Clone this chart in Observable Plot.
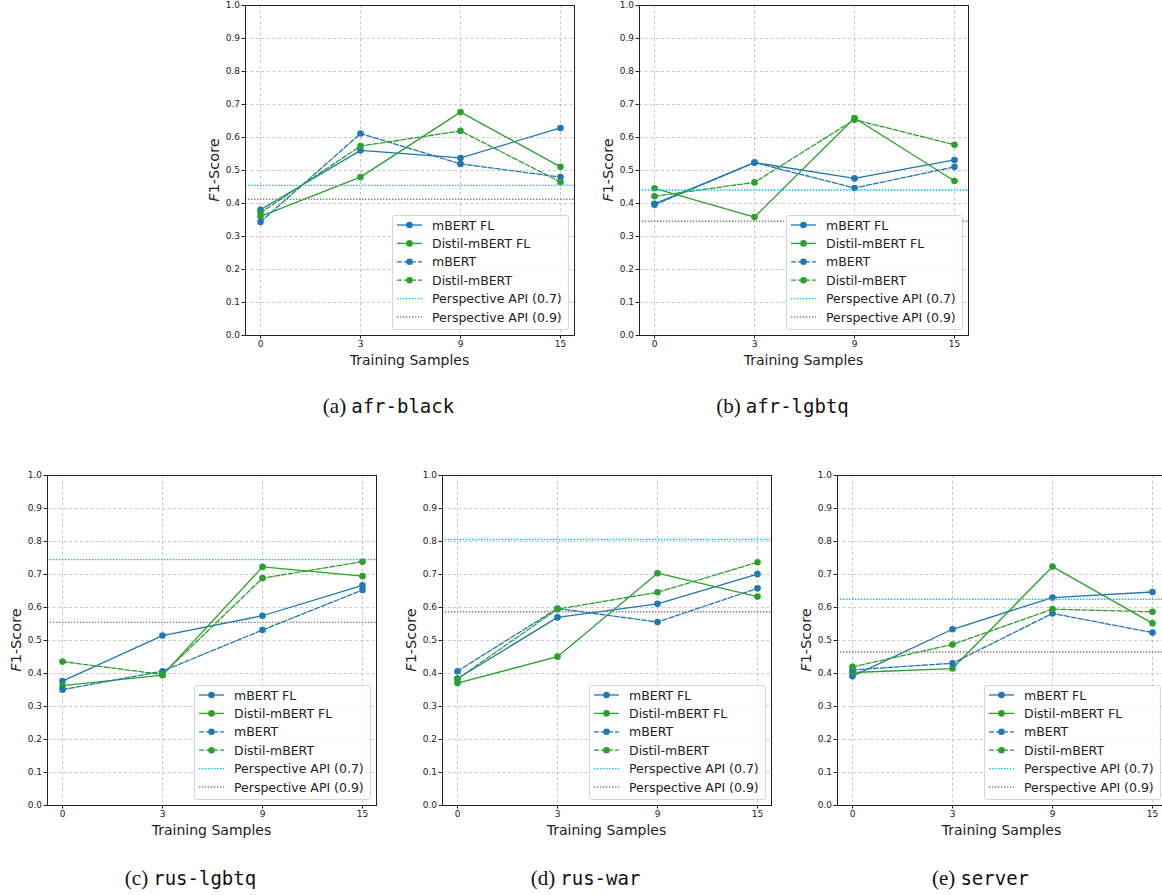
<!DOCTYPE html>
<html>
<head>
<meta charset="utf-8">
<script src="https://cdn.jsdelivr.net/npm/d3@7"></script>
<script src="https://cdn.jsdelivr.net/npm/@observablehq/plot@0.6"></script>
<style>
  body { margin: 0; background: #fff; }
  #root { position: relative; width: 1162px; height: 895px; overflow: hidden; background: #fff; font-family: "DejaVu Sans", sans-serif; color: #222; }
  .abs { position: absolute; }
  .ylab { position: absolute; font-size: 14.5px; white-space: nowrap; transform: translate(-50%, -50%) rotate(-90deg); }
  .xlab { position: absolute; font-size: 14px; white-space: nowrap; transform: translate(-50%, -50%); }
  .cap { position: absolute; white-space: nowrap; transform: translate(-50%, -50%); color: #111; }
  .cap .ser { font-family: "Liberation Serif", serif; font-size: 21px; }
  .cap .mono { font-family: "DejaVu Sans Mono", monospace; font-size: 19px; }
  .legend { position: absolute; background: rgba(255,255,255,0.9); border: 1px solid #d6d6d6; border-radius: 3px; box-sizing: border-box; }
</style>
</head>
<body>
<div id="root"></div>
<script>
// ---------------- data ----------------
const samples = ["0", "3", "9", "15"];
const datasets = ["afr-black", "afr-lgbtq", "rus-lgbtq", "rus-war", "server"];
const captionLetters = ["(a)", "(b)", "(c)", "(d)", "(e)"];

// values per dataset (rows) at 0, 3, 9, 15 training samples
const mbertFL = [
  [0.381, 0.561, 0.538, 0.629],
  [0.399, 0.524, 0.476, 0.532],
  [0.377, 0.515, 0.575, 0.667],
  [0.385, 0.570, 0.611, 0.701],
  [0.392, 0.534, 0.630, 0.647]
];
const distilFL = [
  [0.361, 0.480, 0.677, 0.511],
  [0.446, 0.359, 0.659, 0.468],
  [0.363, 0.395, 0.723, 0.695],
  [0.371, 0.451, 0.704, 0.633],
  [0.403, 0.415, 0.724, 0.552]
];
const mbert = [
  [0.344, 0.612, 0.520, 0.480],
  [0.396, 0.524, 0.447, 0.511],
  [0.351, 0.407, 0.532, 0.653],
  [0.407, 0.597, 0.556, 0.658],
  [0.411, 0.431, 0.582, 0.524]
];
const distil = [
  [0.372, 0.574, 0.620, 0.465],
  [0.422, 0.464, 0.654, 0.578],
  [0.436, 0.397, 0.689, 0.739],
  [0.384, 0.595, 0.646, 0.737],
  [0.420, 0.488, 0.595, 0.587]
];
const perspective07 = [0.455, 0.441, 0.745, 0.806, 0.625];
const perspective09 = [0.413, 0.346, 0.555, 0.587, 0.465];
const yTicks = d3.range(0, 11).map(i => i / 10);

// ---------------- styles ----------------
const BLUE = "#1f77b4", GREEN = "#2ca02c", CYAN = "#00bfff", GRAY = "#808080";
const series = [
  { name: "mBERT FL", values: mbertFL, color: BLUE, dash: null },
  { name: "Distil-mBERT FL", values: distilFL, color: GREEN, dash: null },
  { name: "mBERT", values: mbert, color: BLUE, dash: "5,2" },
  { name: "Distil-mBERT", values: distil, color: GREEN, dash: "5,2" }
];
const refs = [
  { name: "Perspective API (0.7)", values: perspective07, color: CYAN },
  { name: "Perspective API (0.9)", values: perspective09, color: GRAY }
];

// frame positions (left, top) of each panel on the page
const frames = [[245, 5], [639, 5], [47, 475], [442, 475], [837, 475]];
const FW = 329, FH = 330;
const ML = 45, MT = 5, MR = 6, MB = 25;

const root = document.getElementById("root");

datasets.forEach((ds, i) => {
  const [fx, fy] = frames[i];
  const rows = [];
  series.forEach(s => s.values[i].forEach((v, j) => rows.push({ series: s.name, x: samples[j], y: v })));

  const marks = [
    Plot.gridY(yTicks, { stroke: "#b0b0b0", strokeOpacity: 0.75, strokeDasharray: "3,2.5", strokeWidth: 0.9 }),
    Plot.gridX(samples, { stroke: "#b0b0b0", strokeOpacity: 0.75, strokeDasharray: "3,2.5", strokeWidth: 0.9 })
  ];
  series.forEach(s => {
    const d = rows.filter(r => r.series === s.name);
    marks.push(Plot.line(d, { x: "x", y: "y", stroke: s.color, strokeWidth: 1.3, strokeDasharray: s.dash || undefined }));
    marks.push(Plot.dot(d, { x: "x", y: "y", r: 3.3, fill: s.color, stroke: "none" }));
  });
  refs.forEach(rf => {
    marks.push(Plot.ruleY([rf.values[i]], { stroke: rf.color, strokeWidth: 1.4, strokeDasharray: "1.4,1.6" }));
  });
  marks.push(Plot.frame({ stroke: "#222", strokeWidth: 1 }));
  marks.push(Plot.axisX({ tickSize: 3.5, tickPadding: 2, fontSize: 9, label: null }));
  marks.push(Plot.axisY({ ticks: yTicks, tickFormat: ".1f", tickSize: 3.5, tickPadding: 2, fontSize: 9, label: null }));

  const chart = Plot.plot({
    width: ML + FW + MR,
    height: MT + FH + MB,
    marginLeft: ML, marginTop: MT, marginRight: MR, marginBottom: MB,
    x: { type: "point", domain: samples, padding: 0.143 },
    y: { domain: [0, 1] },
    style: { fontFamily: "DejaVu Sans, sans-serif", color: "#222", background: "transparent", overflow: "visible" },
    marks
  });
  chart.classList.add("abs");
  chart.style.left = (fx - ML) + "px";
  chart.style.top = (fy - MT) + "px";
  root.appendChild(chart);

  // y label
  const yl = document.createElement("div");
  yl.className = "ylab";
  yl.innerHTML = "<i>F</i>1-Score";
  yl.style.left = (fx - 31) + "px";
  yl.style.top = (fy + FH / 2) + "px";
  root.appendChild(yl);

  // x label
  const xl = document.createElement("div");
  xl.className = "xlab";
  xl.textContent = "Training Samples";
  xl.style.left = (fx + FW / 2) + "px";
  xl.style.top = (fy + FH + 25) + "px";
  root.appendChild(xl);

  // legend
  const lw = 177, lh = 115;
  const lg = document.createElement("div");
  lg.className = "legend";
  lg.style.left = (fx + 147) + "px";
  lg.style.top = (fy + 210) + "px";
  lg.style.width = lw + "px";
  lg.style.height = lh + "px";
  const svg = d3.select(lg).append("svg").attr("width", lw - 2).attr("height", lh - 2)
    .style("position", "absolute").style("left", "0px").style("top", "0px");
  const entries = series.map(s => ({ name: s.name, color: s.color, dash: s.dash, marker: true }))
    .concat(refs.map(r => ({ name: r.name, color: r.color, dash: "1.4,1.6", marker: false })));
  entries.forEach((e, k) => {
    const cy = 9 + k * 18.4;
    svg.append("line").attr("x1", 4).attr("x2", 29).attr("y1", cy).attr("y2", cy)
      .attr("stroke", e.color).attr("stroke-width", e.marker ? 1.3 : 1.4)
      .attr("stroke-dasharray", e.dash || null);
    if (e.marker) svg.append("circle").attr("cx", 16.5).attr("cy", cy).attr("r", 3.3).attr("fill", e.color);
    svg.append("text").attr("x", 39).attr("y", cy).attr("dy", "0.36em")
      .attr("font-family", "DejaVu Sans, sans-serif").attr("font-size", 12.5).attr("fill", "#222")
      .text(e.name);
  });
  root.appendChild(lg);

  // caption
  const cap = document.createElement("div");
  cap.className = "cap";
  cap.innerHTML = `<span class="ser">${captionLetters[i]}</span> <span class="mono">${ds}</span>`;
  cap.style.left = (fx + FW / 2 - 21) + "px";
  cap.style.top = (i < 2 ? 406 : 878) + "px";
  root.appendChild(cap);
});
</script>
</body>
</html>
